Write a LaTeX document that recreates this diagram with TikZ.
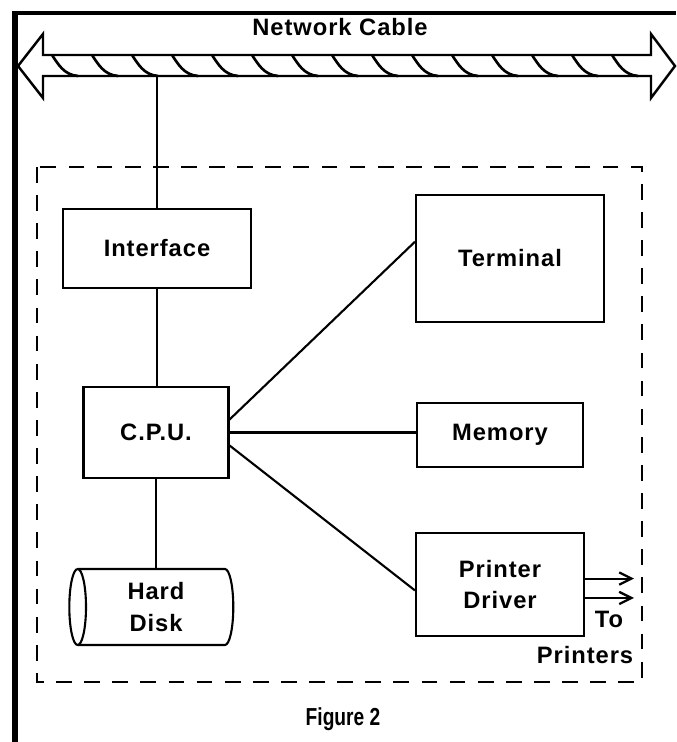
\documentclass[tikz,border=0pt]{standalone}
\usepackage{fontspec}
\setmainfont{Liberation Sans}[LetterSpace=4]
\newfontfamily\narrowfont{Liberation Sans}[FakeStretch=0.78]
\usetikzlibrary{shapes.geometric,arrows.meta}

\begin{document}
\begin{tikzpicture}[x=0.02cm, y=-0.02cm,
    label text/.style={font=\bfseries\fontsize{13.5}{16}\selectfont},
    box/.style={draw, line width=1.2pt, inner sep=0pt, label text},
    wire/.style={line width=1.2pt},
    >={Straight Barb[length=7pt, width=7pt, line width=1.3pt]}]
            \useasboundingbox (0,0) rectangle (676,742);
            % ==== FRAME ====
            \draw[line width=2.4pt] (12,13) -- (676,13);
            \draw[line width=3.2pt] (15,13) -- (15,742);
            % ==== NETWORK CABLE ====
            \node[label text] (title) at (340,27) {Network Cable};
            \draw[line width=1.4pt, line join=miter]
                (18,66) -- (43,34) -- (43,55) -- (651,55) -- (651,34) -- (675,66)
                -- (651,98) -- (651,76) -- (43,76) -- (43,98) -- cycle;
            \foreach \i in {0,...,14}
                \draw[line width=1.5pt] ({52+40*\i},55)
                    .. controls ({58+40*\i},64) and ({64+40*\i},75) .. ({78+40*\i},76);
            \coordinate (tap) at (157,76);
            % ==== STATION ====
            \draw[line width=1.4pt, dash pattern=on 9pt off 7pt] (37,167) rectangle (642,682);
            \node[box, minimum width=3.76cm, minimum height=1.58cm] (iface) at (157,248.5) {Interface};
            \node[box, minimum width=3.76cm, minimum height=2.54cm] (term) at (510,258.5) {Terminal};
            \node[box, minimum width=2.9cm, minimum height=1.82cm] (cpu) at (156,432.5) {C.P.U.};
            \node[box, minimum width=3.32cm, minimum height=1.28cm] (mem) at (500,435) {Memory};
            \node[box, minimum width=3.36cm, minimum height=2.06cm, align=center] (prn) at (500,584.5) {Printer\\[2pt]Driver};
            \node[box, shape=cylinder, shape border rotate=180, aspect=0.34,
                minimum height=3.28cm, minimum width=1.52cm, align=center] (disk) at (156,607) {Hard\\[2pt]Disk};
            % ==== LINKS ====
            \draw[wire] (tap) -- (iface.north);
            \draw[wire] (iface.south) -- (iface.south |- cpu.north);
            \draw[wire] (cpu.south) -- (cpu.south |- disk.north);
            \draw[wire] (cpu.10) -- (term.170);
            \draw[wire] (cpu.east) -- (cpu.east -| mem.west);
            \draw[wire] (cpu.-10) -- (prn.184);
            \draw[wire, ->] (prn.4) -- ++(49,0);
            \draw[wire, ->] (prn.-9) -- ++(49,0);
            \node[label text] (to) at (609,619) {To};
            \node[label text] (printers) at (585,655) {Printers};
            % ==== Title ====
            \node[font=\narrowfont\bfseries\fontsize{14}{17}\selectfont] (fig) at (343,719) {Figure 2};
         \end{tikzpicture}
\end{document}
